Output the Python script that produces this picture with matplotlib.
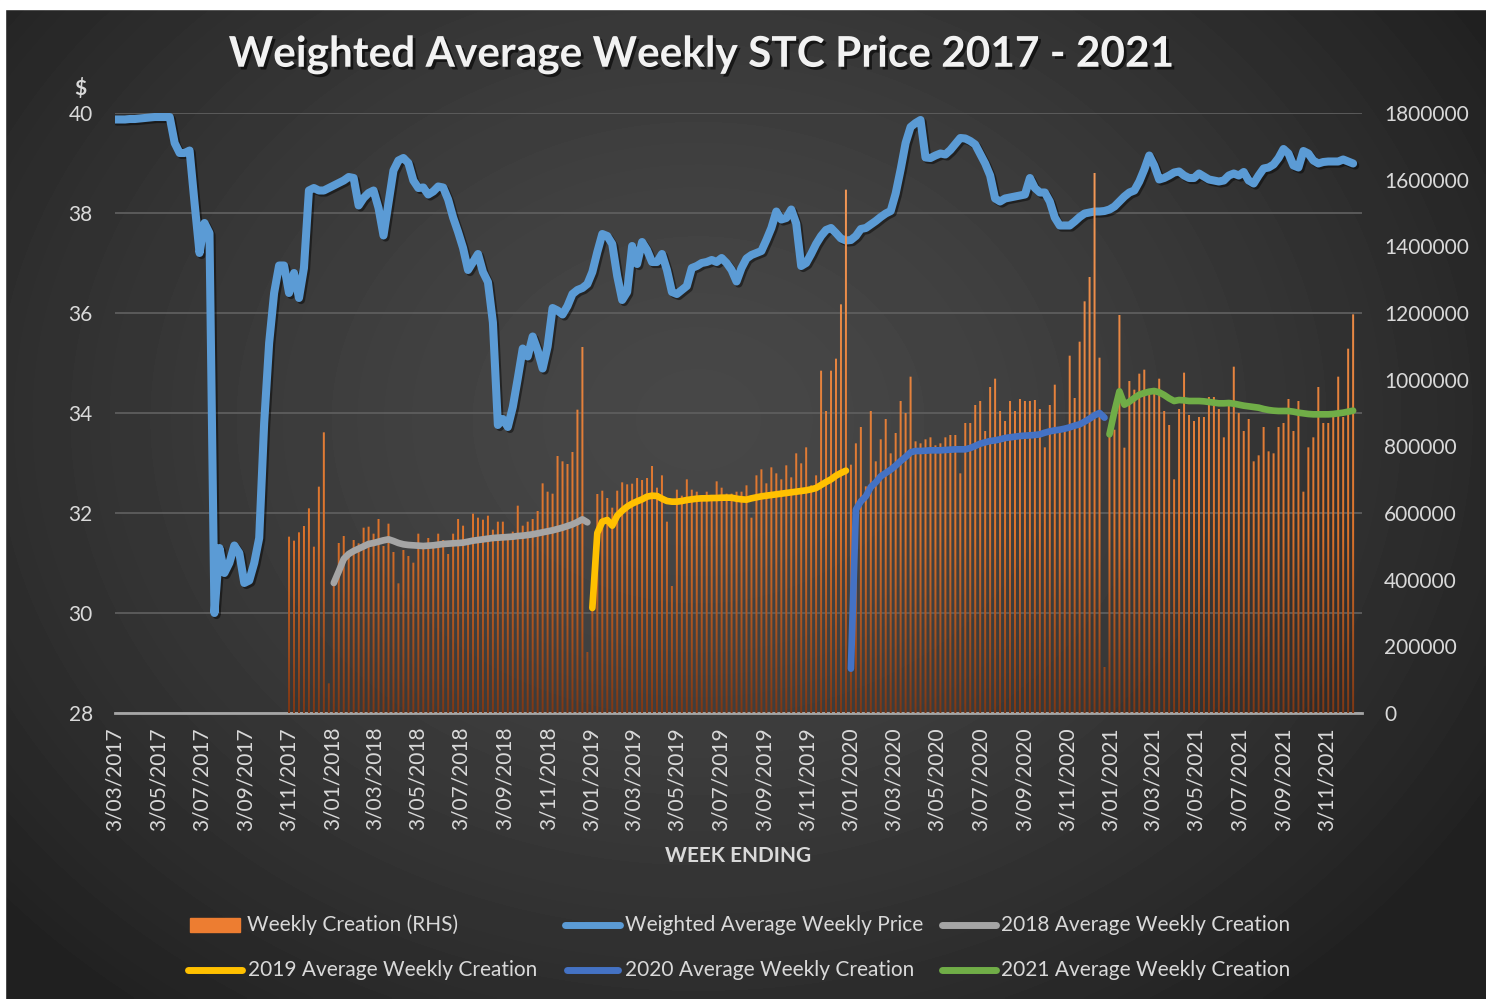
import numpy as np
import pandas as pd
import matplotlib
matplotlib.use('Agg')
import matplotlib.pyplot as plt
import matplotlib.dates as mdates
import matplotlib.patheffects as pe
from matplotlib.colors import LinearSegmentedColormap
from matplotlib.lines import Line2D
from matplotlib.patches import Rectangle, PathPatch
from matplotlib.path import Path
from matplotlib.ticker import StrMethodFormatter

plt.rcParams['font.family'] = ['Lato', 'DejaVu Sans']

# weekly data, week ending Fridays
price_start = '2017-03-03'
price = [
    39.87, 39.87, 39.87, 39.88, 39.88, 39.89, 39.90, 39.91, 39.92, 39.92,
    39.92, 39.92, 39.40, 39.20, 39.20, 39.25, 38.20, 37.20, 37.80, 37.60,
    30.00, 31.30, 30.80, 31.00, 31.35, 31.20, 30.60, 30.65, 31.00, 31.50,
    33.80, 35.40, 36.40, 36.95, 36.95, 36.40, 36.80, 36.30, 36.90, 38.45,
    38.50, 38.45, 38.45, 38.50, 38.55, 38.60, 38.65, 38.72, 38.70, 38.15,
    38.30, 38.40, 38.45, 38.10, 37.55, 38.20, 38.85, 39.05, 39.10, 39.00,
    38.65, 38.50, 38.51, 38.37, 38.43, 38.53, 38.51, 38.27, 37.91, 37.62,
    37.30, 36.86, 37.02, 37.18, 36.82, 36.62, 35.81, 33.76, 33.88, 33.72,
    34.12, 34.69, 35.29, 35.13, 35.53, 35.25, 34.89, 35.33, 36.10, 36.05,
    35.97, 36.14, 36.38, 36.46, 36.50, 36.58, 36.82, 37.22, 37.58, 37.54,
    37.38, 36.74, 36.26, 36.42, 37.34, 36.98, 37.42, 37.26, 37.02, 37.02,
    37.18, 36.86, 36.42, 36.38, 36.46, 36.54, 36.90, 36.94, 37.00, 37.02,
    37.06, 37.02, 37.10, 37.00, 36.86, 36.63, 36.90, 37.09, 37.16, 37.20,
    37.24, 37.46, 37.70, 38.03, 37.87, 37.90, 38.07, 37.79, 36.94, 37.00,
    37.18, 37.38, 37.54, 37.66, 37.70, 37.60, 37.49, 37.45, 37.46, 37.54,
    37.68, 37.70, 37.77, 37.84, 37.92, 37.99, 38.04, 38.39, 38.87, 39.40,
    39.72, 39.80, 39.86, 39.11, 39.10, 39.15, 39.19, 39.17, 39.26, 39.38,
    39.50, 39.49, 39.44, 39.37, 39.18, 38.99, 38.75, 38.29, 38.23, 38.29,
    38.31, 38.33, 38.35, 38.37, 38.70, 38.50, 38.41, 38.41, 38.23, 37.91,
    37.75, 37.75, 37.75, 37.83, 37.92, 37.99, 38.01, 38.03, 38.03, 38.04,
    38.07, 38.13, 38.23, 38.33, 38.41, 38.45, 38.63, 38.87, 39.15, 38.95,
    38.67, 38.70, 38.75, 38.81, 38.83, 38.75, 38.70, 38.70, 38.79, 38.73,
    38.67, 38.65, 38.63, 38.65, 38.75, 38.79, 38.75, 38.82, 38.65, 38.59,
    38.75, 38.89, 38.91, 38.97, 39.10, 39.28, 39.19, 38.95, 38.91, 39.24,
    39.19, 39.05, 38.99, 39.02, 39.03, 39.03, 39.03, 39.07, 39.03, 38.99,
]

creation_start = '2017-11-03'
creation = [
    529000, 517000, 542000, 561000, 614000, 499000, 679000, 842000, 89000, 385000,
    510000, 531000, 484000, 519000, 509000, 556000, 559000, 538000, 582000, 501000,
    568000, 483000, 389000, 489000, 471000, 451000, 538000, 495000, 525000, 513000,
    538000, 519000, 477000, 538000, 582000, 562000, 507000, 598000, 586000, 580000,
    592000, 550000, 574000, 574000, 519000, 544000, 622000, 562000, 574000, 582000,
    606000, 689000, 664000, 658000, 771000, 755000, 747000, 783000, 910000, 1098000,
    183000, 315000, 657000, 667000, 645000, 616000, 667000, 692000, 686000, 688000,
    705000, 699000, 705000, 741000, 676000, 713000, 574000, 381000, 670000, 652000,
    701000, 670000, 664000, 646000, 664000, 652000, 695000, 676000, 658000, 658000,
    664000, 664000, 683000, 586000, 713000, 731000, 689000, 737000, 719000, 701000,
    743000, 707000, 779000, 749000, 797000, 683000, 713000, 1027000, 906000, 1027000,
    1063000, 1226000, 1570000, 745000, 809000, 858000, 680000, 906000, 755000, 821000,
    882000, 779000, 840000, 936000, 900000, 1009000, 815000, 809000, 821000, 827000,
    803000, 809000, 827000, 834000, 834000, 719000, 870000, 870000, 924000, 936000,
    846000, 978000, 1003000, 906000, 876000, 936000, 906000, 942000, 936000, 936000,
    939000, 912000, 797000, 924000, 985000, 858000, 852000, 1072000, 945000, 1114000,
    1235000, 1308000, 1620000, 1066000, 138000, 834000, 850000, 1194000, 796000, 996000,
    970000, 1018000, 1030000, 970000, 966000, 1003000, 906000, 864000, 701000, 912000,
    1021000, 894000, 876000, 888000, 888000, 948000, 948000, 912000, 827000, 936000,
    1039000, 900000, 846000, 882000, 755000, 773000, 858000, 785000, 779000, 858000,
    870000, 942000, 846000, 936000, 664000, 797000, 827000, 978000, 870000, 870000,
    894000, 1009000, 888000, 1093000, 1196000,
]

avg_2018_start = '2018-01-05'
avg_2018 = [
    390000, 425000, 462000, 477000, 486000, 493000, 500000, 507000, 510000, 514000,
    518000, 521000, 516000, 510000, 506000, 504000, 503000, 502000, 501000, 502000,
    503000, 505000, 507000, 508000, 509000, 510000, 511000, 514000, 517000, 519000,
    521000, 523000, 525000, 526000, 527000, 528000, 529000, 531000, 532000, 534000,
    536000, 539000, 542000, 545000, 548000, 552000, 556000, 561000, 566000, 573000,
    581000, 572000,
]

avg_2019_start = '2019-01-04'
avg_2019 = [
    315000, 540000, 574000, 579000, 562000, 592000, 607000, 619000, 628000, 635000,
    641000, 649000, 652000, 651000, 643000, 636000, 634000, 634000, 636000, 639000,
    641000, 643000, 644000, 644000, 645000, 645000, 646000, 646000, 646000, 643000,
    641000, 640000, 644000, 647000, 650000, 652000, 654000, 656000, 658000, 660000,
    662000, 664000, 666000, 668000, 671000, 675000, 684000, 693000, 701000, 712000,
    720000, 727000,
]

avg_2020_start = '2020-01-03'
avg_2020 = [
    133000, 610000, 635000, 650000, 678000, 692000, 710000, 720000, 730000, 742000,
    756000, 768000, 782000, 786000, 786000, 787000, 788000, 788000, 788000, 789000,
    790000, 791000, 791000, 791000, 795000, 801000, 808000, 812000, 816000, 818000,
    821000, 825000, 827000, 829000, 831000, 832000, 833000, 834000, 836000, 841000,
    845000, 848000, 850000, 853000, 857000, 862000, 866000, 874000, 883000, 893000,
    900000, 886000,
]

avg_2021_start = '2021-01-01'
avg_2021 = [
    836000, 905000, 965000, 925000, 934000, 945000, 955000, 960000, 964000, 966000,
    962000, 954000, 944000, 936000, 939000, 938000, 936000, 936000, 936000, 935000,
    933000, 931000, 929000, 929000, 930000, 928000, 925000, 922000, 920000, 918000,
    916000, 912000, 909000, 907000, 906000, 906000, 906000, 904000, 901000, 899000,
    897000, 896000, 896000, 896000, 896000, 897000, 899000, 901000, 904000, 907000,
]

tick_dates = pd.date_range('2017-03-03', '2021-11-03', freq=pd.DateOffset(months=2))
tick_labels = [f"{d.day}/{d.month:02d}/{d.year}" for d in tick_dates]


def weeks(start, values):
    return pd.date_range(start, periods=len(values), freq='7D')


W, H = 1486, 999
def fx(px):
    return px / W
def fy(py):
    return 1 - py / H


txt = '#d9d9d9'
fig = plt.figure(figsize=(W / 100, H / 100), dpi=100)

# dark radial background
bg = fig.add_axes([0, 0, 1, 1], zorder=-10)
gy, gx = np.mgrid[0:1:300j, 0:1:450j]
dist = np.clip(np.hypot((gx - 0.47) / 0.62, (gy - 0.58) / 0.75), 0, 1.0)
shade = 0.28 - 0.15 * dist ** 1.5
bg.imshow(shade, cmap='gray', vmin=0, vmax=1, extent=[0, 1, 0, 1],
          origin='lower', aspect='auto', interpolation='bilinear')
bg.add_patch(Rectangle((0, fy(9)), 1, 9 / H, color='white'))
bg.add_patch(Rectangle((0, 0), fx(5), 1, color='white'))
bg.set_xlim(0, 1)
bg.set_ylim(0, 1)
bg.axis('off')

ax = fig.add_axes([fx(115), fy(713), fx(1362) - fx(115), (713 - 113) / H])
ax.set_facecolor('none')
ax2 = ax.twinx()

# price on the left axis
ax.plot(weeks(price_start, price), price, color='#5B9BD5', lw=5.8,
        solid_joinstyle='round', solid_capstyle='round', zorder=3,
        path_effects=[pe.SimpleLineShadow(offset=(1.5, -1.5), shadow_color='black', alpha=0.45),
                      pe.Normal()])
ax.set_ylim(28, 40)
ax.set_yticks(range(28, 41, 2))
ax.yaxis.grid(True, color='#5e5e5e', lw=1.3)
ax.set_axisbelow(True)

# weekly creation bars with a vertical gradient
cdates = weeks(creation_start, creation)
bars = ax2.bar(cdates, creation, width=2.8, color='none', linewidth=0)
paths = [b.get_path().transformed(b.get_patch_transform()) for b in bars]
clip = PathPatch(Path.make_compound_path(*paths), transform=ax2.transData,
                 facecolor='none', edgecolor='none')
ax2.add_patch(clip)
bar_cmap = LinearSegmentedColormap.from_list(
    'bars', [(0, '#7e3714'), (0.3, '#dc732b'), (1.0, '#f7a060')])
grad = np.linspace(0, 1, 256).reshape(-1, 1)
x0 = mdates.date2num(pd.Timestamp('2017-10-01'))
x1 = mdates.date2num(pd.Timestamp('2022-01-15'))
img = ax2.imshow(grad, extent=[x0, x1, 0, 1800000], origin='lower', aspect='auto',
                 cmap=bar_cmap, zorder=2, interpolation='bilinear')
img.set_clip_path(clip)

avg_series = [
    (avg_2018_start, avg_2018, '#A5A5A5'),
    (avg_2019_start, avg_2019, '#FFC000'),
    (avg_2020_start, avg_2020, '#4472C4'),
    (avg_2021_start, avg_2021, '#70AD47'),
]
for start, vals, col in avg_series:
    ax2.plot(weeks(start, vals), vals, color=col, lw=4.8, zorder=4,
             solid_capstyle='round', solid_joinstyle='round')

ax2.set_ylim(0, 1800000)
ax2.set_yticks(range(0, 1800001, 200000))
ax2.yaxis.set_major_formatter(StrMethodFormatter('{x:.0f}'))
ax2.set_aspect('auto')

ax.set_xlim(pd.Timestamp('2017-03-03'), pd.Timestamp('2021-12-22 12:00'))
ax.set_xticks(tick_dates)
ax.set_xticklabels(tick_labels, rotation=90)

for a in (ax, ax2):
    for s in a.spines.values():
        s.set_visible(False)
ax.spines['bottom'].set_visible(True)
ax.spines['bottom'].set_color('#a6a6a6')
ax.spines['bottom'].set_linewidth(2)

ax.tick_params(axis='x', length=0, pad=10, labelsize=15, labelcolor=txt)
ax.tick_params(axis='y', length=0, pad=16, labelsize=15, labelcolor=txt)
ax2.tick_params(axis='y', length=0, pad=16, labelsize=15, labelcolor=txt)

# texts
fig.text(fx(702), fy(55), 'Weighted Average Weekly STC Price 2017 - 2021',
         ha='center', va='center', fontsize=30.5, fontweight='bold', color='#f2f2f2',
         path_effects=[pe.withSimplePatchShadow(offset=(2, -2), shadow_rgbFace='black', alpha=0.6)])
fig.text(fx(80), fy(88), '$', ha='center', va='center', fontsize=15, fontweight='bold', color=txt)
fig.text(fx(738), fy(856), 'WEEK ENDING', ha='center', va='center',
         fontsize=15, fontweight='bold', color=txt)

# legend, laid out like the original
fig.add_artist(Rectangle((fx(190), fy(932)), fx(240) - fx(190), 14 / H,
                         transform=fig.transFigure, color='#ED7D31'))
fig.text(fx(247), fy(925), 'Weekly Creation (RHS)', ha='left', va='center', fontsize=15, color=txt)
legend_lines = [
    (565, 620, 925, '#5B9BD5', 'Weighted Average Weekly Price', 625),
    (942, 996, 925, '#A5A5A5', '2018 Average Weekly Creation', 1001),
    (188, 242, 970, '#FFC000', '2019 Average Weekly Creation', 248),
    (567, 618, 970, '#4472C4', '2020 Average Weekly Creation', 625),
    (942, 996, 970, '#70AD47', '2021 Average Weekly Creation', 1001),
]
for xa, xb, yy, col, label, xt in legend_lines:
    fig.add_artist(Line2D([fx(xa), fx(xb)], [fy(yy), fy(yy)], transform=fig.transFigure,
                          color=col, lw=5, solid_capstyle='round'))
    fig.text(fx(xt), fy(yy), label, ha='left', va='center', fontsize=15, color=txt)

fig.savefig('out.png', dpi=100)
